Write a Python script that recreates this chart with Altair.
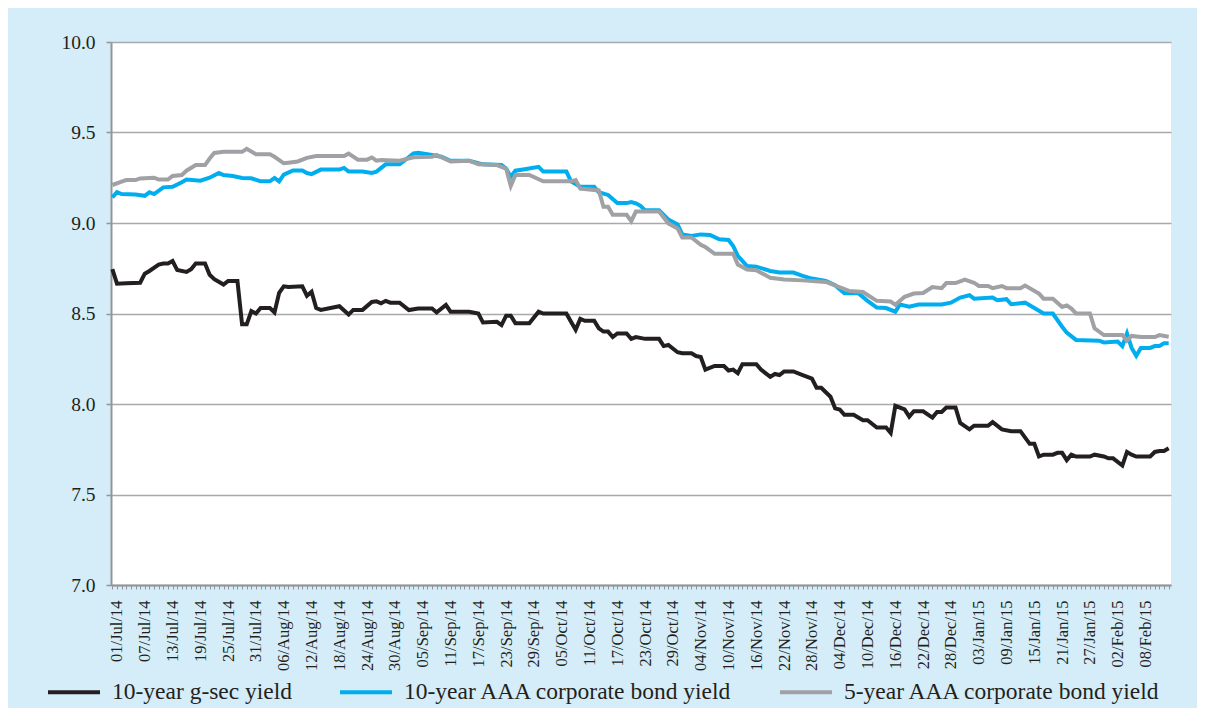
import altair as alt
import pandas as pd

series_names = ["10-year g-sec yield", "10-year AAA corporate bond yield", "5-year AAA corporate bond yield"]
series_colors = ["#231f20", "#00aeef", "#a0a1a4"]

# day offsets from 01/Jul/2014 and yields (%)
gsec_days = [-1, 0, 2, 5, 6, 7, 9, 10, 11, 12, 13, 15, 16, 17, 19, 20, 21, 23, 24, 26,
             27, 28, 29, 30, 31, 33, 34, 35, 36, 37, 40, 41, 42, 43, 44, 48, 50, 51, 53, 55,
             56, 57, 58, 59, 61, 63, 65, 68, 69, 71, 72, 76, 78, 79, 82, 83, 84, 85, 86, 89,
             91, 92, 97, 98, 99, 100, 101, 103, 104, 105, 106, 107, 108, 110, 111, 112, 114, 117, 118, 119,
             121, 122, 124, 125, 126, 127, 129, 131, 132, 133, 134, 135, 138, 139, 141, 142, 143, 144, 146, 148,
             150, 151, 152, 154, 155, 156, 157, 159, 161, 162, 164, 166, 167, 168, 170, 171, 172, 174, 176, 177,
             178, 179, 181, 182, 184, 185, 188, 189, 191, 193, 195, 197, 198, 199, 200, 202, 203, 204, 205, 206,
             207, 210, 211, 213, 214, 215, 217, 218, 219, 220, 223, 224, 225, 226, 227]
gsec_vals = [8.745, 8.665, 8.667, 8.67, 8.72, 8.735, 8.77, 8.776, 8.776, 8.79,
             8.74, 8.73, 8.745, 8.776, 8.776, 8.714, 8.69, 8.66, 8.68, 8.68,
             8.44, 8.44, 8.513, 8.50, 8.53, 8.53, 8.506, 8.614, 8.65, 8.646,
             8.65, 8.598, 8.62, 8.53, 8.52, 8.54, 8.494, 8.52, 8.52, 8.564,
             8.567, 8.556, 8.57, 8.56, 8.56, 8.519, 8.528, 8.528, 8.506, 8.547,
             8.51, 8.51, 8.50, 8.45, 8.454, 8.436, 8.488, 8.488, 8.446, 8.446,
             8.51, 8.50, 8.50, 8.454, 8.41, 8.47, 8.46, 8.46, 8.418, 8.40,
             8.40, 8.37, 8.39, 8.39, 8.36, 8.37, 8.36, 8.36, 8.32, 8.326,
             8.286, 8.28, 8.28, 8.265, 8.26, 8.19, 8.21, 8.21, 8.185, 8.19,
             8.17, 8.22, 8.22, 8.19, 8.15, 8.166, 8.16, 8.18, 8.18, 8.16,
             8.14, 8.09, 8.09, 8.04, 7.976, 7.97, 7.94, 7.94, 7.91, 7.91,
             7.87, 7.87, 7.84, 7.99, 7.97, 7.93, 7.96, 7.96, 7.925, 7.956,
             7.956, 7.98, 7.98, 7.895, 7.86, 7.88, 7.88, 7.90, 7.86, 7.85,
             7.85, 7.78, 7.78, 7.71, 7.72, 7.72, 7.73, 7.73, 7.69, 7.72,
             7.71, 7.71, 7.72, 7.71, 7.70, 7.70, 7.66, 7.735, 7.72, 7.71,
             7.71, 7.735, 7.74, 7.74, 7.755]

aaa10_days = [-1, 0, 1, 4, 6, 7, 8, 10, 12, 14, 15, 18, 20, 22, 23, 25, 27, 29, 31, 33,
              34, 35, 36, 38, 40, 41, 42, 44, 48, 49, 50, 53, 55, 56, 58, 61, 62, 64, 65, 68,
              70, 72, 76, 78, 79, 83, 84, 85, 86, 88, 91, 92, 97, 98, 100, 103, 104, 106, 108, 110,
              111, 112, 113, 114, 117, 119, 121, 122, 124, 126, 128, 130, 132, 133, 134, 136, 138, 141, 143, 146,
              148, 150, 153, 155, 157, 160, 162, 164, 166, 168, 169, 171, 173, 178, 180, 182, 184, 185, 189, 190,
              192, 193, 196, 198, 200, 202, 204, 205, 207, 212, 213, 216, 217, 218, 219, 220, 221, 223, 224, 225,
              226, 227]
aaa10_vals = [9.142, 9.17, 9.16, 9.157, 9.15, 9.17, 9.16, 9.197, 9.2, 9.225,
              9.24, 9.234, 9.25, 9.276, 9.265, 9.26, 9.249, 9.247, 9.23, 9.23,
              9.249, 9.23, 9.267, 9.29, 9.29, 9.276, 9.27, 9.295, 9.295, 9.304,
              9.284, 9.284, 9.277, 9.284, 9.324, 9.324, 9.344, 9.385, 9.388, 9.376,
              9.366, 9.344, 9.344, 9.33, 9.324, 9.32, 9.30, 9.256, 9.289, 9.297,
              9.31, 9.284, 9.284, 9.23, 9.20, 9.20, 9.17, 9.155, 9.11, 9.11,
              9.116, 9.109, 9.095, 9.07, 9.07, 9.02, 8.992, 8.937, 8.928, 8.937,
              8.934, 8.91, 8.906, 8.873, 8.818, 8.762, 8.759, 8.735, 8.726, 8.726,
              8.708, 8.693, 8.68, 8.656, 8.612, 8.612, 8.57, 8.533, 8.53, 8.51,
              8.55, 8.538, 8.55, 8.55, 8.56, 8.588, 8.601, 8.582, 8.588, 8.573,
              8.579, 8.551, 8.56, 8.53, 8.50, 8.50, 8.427, 8.394, 8.354, 8.35,
              8.34, 8.345, 8.32, 8.39, 8.31, 8.266, 8.31, 8.31, 8.32, 8.32,
              8.335, 8.335]

aaa5_days = [-1, 1, 2, 4, 5, 8, 9, 11, 12, 14, 15, 17, 19, 20, 21, 23, 27, 28, 30, 33,
             34, 36, 37, 39, 41, 43, 49, 50, 52, 54, 55, 56, 57, 61, 64, 68, 69, 70, 72, 76,
             78, 82, 84, 85, 86, 89, 92, 98, 99, 100, 104, 105, 106, 107, 110, 111, 112, 117, 119, 121,
             122, 124, 126, 127, 129, 133, 134, 136, 138, 141, 144, 148, 153, 158, 161, 164, 167, 168, 169, 170,
             172, 174, 176, 178, 179, 181, 183, 185, 186, 188, 189, 191, 192, 195, 196, 199, 200, 202, 204, 205,
             206, 207, 210, 211, 213, 217, 218, 219, 221, 224, 225, 227]
aaa5_vals = [9.21, 9.228, 9.237, 9.237, 9.246, 9.25, 9.24, 9.24, 9.26, 9.265,
             9.289, 9.32, 9.32, 9.356, 9.387, 9.393, 9.393, 9.41, 9.38, 9.38,
             9.366, 9.33, 9.333, 9.34, 9.36, 9.37, 9.37, 9.383, 9.35, 9.35,
             9.362, 9.344, 9.348, 9.344, 9.363, 9.366, 9.376, 9.363, 9.34, 9.344,
             9.324, 9.32, 9.30, 9.205, 9.265, 9.265, 9.23, 9.23, 9.237, 9.19,
             9.18, 9.09, 9.09, 9.045, 9.045, 9.01, 9.063, 9.063, 8.998, 8.97,
             8.92, 8.92, 8.88, 8.867, 8.83, 8.83, 8.77, 8.743, 8.739, 8.697,
             8.688, 8.683, 8.674, 8.625, 8.619, 8.57, 8.566, 8.548, 8.57, 8.592,
             8.61, 8.613, 8.646, 8.64, 8.668, 8.668, 8.687, 8.67, 8.652, 8.652,
             8.64, 8.652, 8.64, 8.64, 8.655, 8.61, 8.582, 8.582, 8.536, 8.545,
             8.527, 8.50, 8.50, 8.418, 8.381, 8.381, 8.35, 8.376, 8.37, 8.37,
             8.381, 8.372]

y_ticks = [7.0, 7.5, 8.0, 8.5, 9.0, 9.5, 10.0]

base_day = pd.Timestamp("2014-07-01")


def frame(name, days, vals):
    assert len(days) == len(vals), name
    return pd.DataFrame({
        "series": name,
        "date": [(base_day + pd.Timedelta(days=d)).strftime("%Y-%m-%dT00:00:00") for d in days],
        "value": vals,
    })


df = pd.concat([
    frame(series_names[0], gsec_days, gsec_vals),
    frame(series_names[1], aaa10_days, aaa10_vals),
    frame(series_names[2], aaa5_days, aaa5_vals),
], ignore_index=True)

tick_dates = pd.date_range("2014-06-30", "2015-02-13", freq="D")
tick_values = [alt.DateTime(year=t.year, month=t.month, date=t.day) for t in tick_dates]
label_expr = ("round((datum.value - datetime(2014, 6, 1)) / 86400000) % 6 == 0 "
              "? timeFormat(datum.value, '%d/%b/%y') : ''")

SERIF = "Liberation Serif"
TEXT = "#231f20"
GREY = "#939598"

chart = alt.Chart(df).mark_line(strokeWidth=4).encode(
    x=alt.X("date:T",
            scale=alt.Scale(domain=[alt.DateTime(year=2014, month=6, date=29, hours=17),
                                    alt.DateTime(year=2015, month=2, date=13, hours=12)]),
            axis=alt.Axis(values=tick_values, labelExpr=label_expr, labelAngle=270,
                          labelOverlap=False, labelBound=False, grid=False,
                          tickSize=4, tickColor=GREY, tickWidth=1,
                          domainColor=GREY, domainWidth=2,
                          labelFont=SERIF, labelFontSize=16.5, labelColor=TEXT,
                          labelPadding=11, title="")),
    y=alt.Y("value:Q",
            scale=alt.Scale(domain=[7, 10], nice=False, zero=False),
            axis=alt.Axis(values=y_ticks, format=".1f", grid=True,
                          gridColor="#a7a9ac", gridWidth=1.5,
                          tickSize=5, tickColor=GREY, tickWidth=1.5,
                          domainColor=GREY, domainWidth=2,
                          labelFont=SERIF, labelFontSize=19.5, labelColor=TEXT,
                          labelPadding=11, title="")),
    color=alt.Color("series:N",
                    scale=alt.Scale(domain=series_names, range=series_colors),
                    legend=alt.Legend(orient="none", legendX=-65, legendY=622,
                                      direction="horizontal", title=None,
                                      symbolType="stroke", symbolSize=2704,
                                      symbolStrokeWidth=4, labelFont=SERIF,
                                      labelFontSize=23.5, labelColor=TEXT,
                                      labelOffset=10, columnPadding=39,
                                      labelLimit=500)),
).properties(
    width=1060,
    height=543,
    padding={"left": 103, "top": 34, "right": 26, "bottom": 123},
    autosize=alt.AutoSizeParams(type="none"),
    background="#d5edf9",
).configure_view(fill="white", strokeWidth=0)

chart.save("out.html", embed_options={"renderer": "svg", "actions": False})
